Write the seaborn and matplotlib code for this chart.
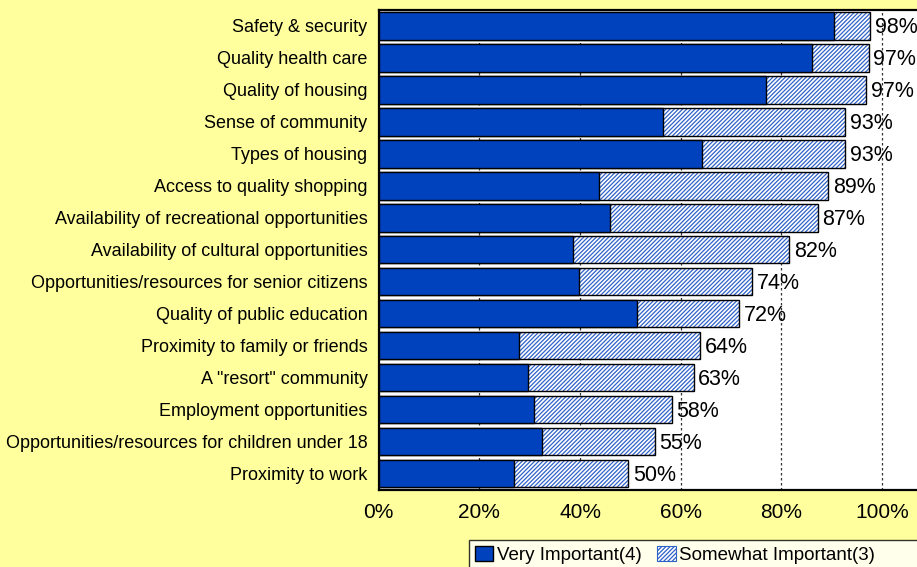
import matplotlib
matplotlib.use("Agg")
import matplotlib.pyplot as plt
from matplotlib.patches import Patch
import seaborn as sns
import pandas as pd

categories = [
    "Safety & security",
    "Quality health care",
    "Quality of housing",
    "Sense of community",
    "Types of housing",
    "Access to quality shopping",
    "Availability of recreational opportunities",
    "Availability of cultural opportunities",
    "Opportunities/resources for senior citizens",
    "Quality of public education",
    "Proximity to family or friends",
    "A \"resort\" community",
    "Employment opportunities",
    "Opportunities/resources for children under 18",
    "Proximity to work",
]
very_important = [90.5, 86.0, 77.0, 56.5, 64.3, 43.7, 46.0, 38.6, 39.7, 51.3, 27.9, 29.7, 30.9, 32.5, 26.8]
somewhat_important = [7.1, 11.3, 19.9, 36.2, 28.4, 45.6, 41.2, 43.0, 34.5, 20.3, 35.9, 32.9, 27.3, 22.3, 22.8]
x_ticks = [0, 20, 40, 60, 80, 100]

BG = "#FFFF9E"
DARK = "#0041BE"
HATCH = "#2F62C8"

df = pd.DataFrame({
    "category": categories,
    "very": very_important,
    "total": [v + s for v, s in zip(very_important, somewhat_important)],
})

sns.set_style("white")
plt.rcParams["font.family"] = ["Liberation Sans", "DejaVu Sans"]
plt.rcParams["text.color"] = "black"
plt.rcParams["xtick.color"] = "black"
plt.rcParams["ytick.color"] = "black"
plt.rcParams["hatch.linewidth"] = 0.9

W, H = 917, 567
fig = plt.figure(figsize=(W / 100, H / 100), dpi=100, facecolor=BG)
left, top, bottom = 378.7, 10, 489.5
ax = fig.add_axes([left / W, (H - bottom) / H, (W - left) / W, (bottom - top) / H])
ax.set_facecolor("white")

bw = 0.86
# hatched "somewhat" layer drawn as the full total, then outline, then solid on top
sns.barplot(data=df, x="total", y="category", color="white", edgecolor=HATCH,
            linewidth=0, hatch="////////", width=bw, ax=ax, zorder=2)
sns.barplot(data=df, x="total", y="category", fill=False, color="black",
            linewidth=1.0, width=bw, ax=ax, zorder=3)
sns.barplot(data=df, x="very", y="category", color=DARK, edgecolor="black",
            linewidth=1.0, width=bw, saturation=1, ax=ax, zorder=4)

for i, t in enumerate(df["total"]):
    ax.text(t + 0.9, i + 0.05, f"{round(t)}%", va="center", ha="left", fontsize=15.5, zorder=5)

ax.set_xlim(0, (W - left) / 5.034)
ax.set_ylim(len(categories) - 0.5, -0.5)
ax.set_xticks(x_ticks)
ax.set_xticklabels([f"{v}%" for v in x_ticks], fontsize=15)
ax.tick_params(axis="x", length=0, pad=10)
ax.tick_params(axis="y", length=0, pad=8, labelsize=13.0)
ax.set_xlabel("")
ax.set_ylabel("")
ax.xaxis.grid(True, linestyle=(0, (2, 2)), color="#333333", linewidth=0.9)
ax.yaxis.grid(False)
ax.set_axisbelow(True)
for s in ["left", "bottom", "top"]:
    ax.spines[s].set_color("black")
    ax.spines[s].set_linewidth(1.6)
ax.spines["right"].set_visible(False)

handles = [
    Patch(facecolor=DARK, edgecolor="black", linewidth=1.0),
    Patch(facecolor="white", edgecolor=HATCH, hatch="////////", linewidth=0.8),
]
leg = fig.legend(handles, ["Very Important(4)", "Somewhat Important(3)              "],
                 loc="upper left", bbox_to_anchor=(469 / W, 1 - 540 / H), ncol=2,
                 frameon=True, fancybox=False, fontsize=13.5, handlelength=1.0,
                 handleheight=0.9, handletextpad=0.2, columnspacing=0.8,
                 borderpad=0.3, borderaxespad=0)
leg.get_frame().set_edgecolor("black")
leg.get_frame().set_linewidth(1.0)
leg.get_frame().set_facecolor("white")

fig.savefig("out.png", dpi=100, facecolor=BG)
